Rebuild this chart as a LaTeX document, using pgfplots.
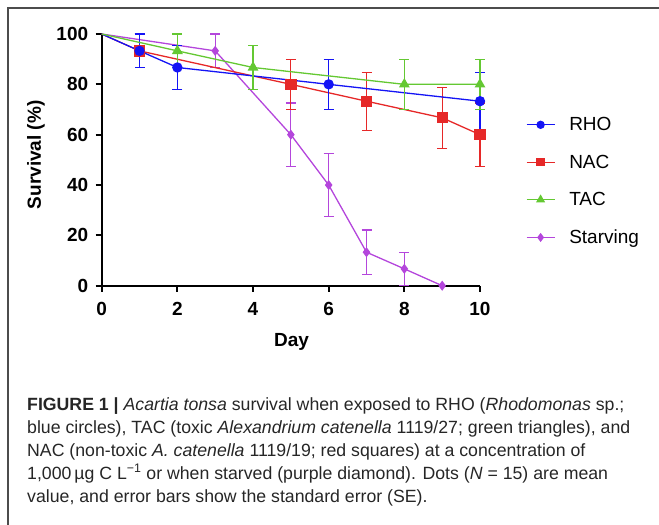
\documentclass[border=0pt]{standalone}
\usepackage{fontspec}
\setmainfont{Liberation Sans}
\usepackage{pgfplots}
\pgfplotsset{compat=1.18}
\usepackage{pgfplotstable}

\definecolor{rhoc}{RGB}{20,20,245}
\definecolor{nacc}{RGB}{230,40,40}
\definecolor{tacc}{RGB}{100,200,50}
\definecolor{stvc}{RGB}{180,70,220}

% mean survival (%) per day
\pgfplotstableread{
x y
0 100
1 93.3
2 86.7
6 80
10 73.3
}\rholine
\pgfplotstableread{
x y e
1 93.3 6.7
2 86.7 8.7
6 80 10
10 73.3 11.5
}\rhoerr
\pgfplotstableread{
x y
0 100
1 93.3
5 80
7 73.3
9 66.7
10 60
}\nacline
\pgfplotstableread{
x y e
1 93.3 6.7
5 80 10
7 73.3 11.5
9 66.7 12.2
10 60 12.6
}\nacerr
\pgfplotstableread{
x y
0 100
2 93.3
4 86.7
8 80
10 80
}\tacline
\pgfplotstableread{
x y e
2 93.3 6.7
4 86.7 8.7
8 80 10
10 80 10
}\tacerr
\pgfplotstableread{
x y
0 100
3 93.3
5 60
6 40
7 13.3
8 6.7
9 0
}\stvline
\pgfplotstableread{
x y e
3 93.3 6.7
5 60 12.6
6 40 12.6
7 13.3 8.8
8 6.7 6.5
}\stverr

\pgfplotsset{
  errs/.style={forget plot, draw=none, no markers,
    error bars/.cd, y dir=both, y explicit,
    error bar style={draw=#1, line width=1.2pt},
    error mark options={rotate=90, draw=#1, mark size=5pt, line width=1.2pt}},
  ser/.style={forget plot, color=#1, line width=1.3pt},
}

\begin{document}
\begin{tikzpicture}[x=1pt,y=1pt]
\path[use as bounding box] (0,0) rectangle (659,-525);
\draw[line width=1.5pt, black!70] (8,-525) -- (8,-8) -- (659,-8);

\begin{axis}[
  at={(101.7pt,-285.7pt)}, anchor=south west,
  scale only axis, width=378.3pt, height=251.7pt,
  xmin=0, xmax=10, ymin=0, ymax=100,
  clip=false,
  axis lines=left,
  axis line style={-, line width=2pt, black},
  xtick={0,2,...,10}, ytick={0,20,...,100},
  tick align=outside, major tick length=6pt,
  tick style={line width=2pt, black},
  /pgf/number format/assume math mode=true,
  ticklabel style={font=\bfseries\fontsize{19}{19}\selectfont},
  xticklabel style={yshift=-7pt},
  yticklabel style={xshift=-4pt},
  xlabel={Day}, ylabel={Survival (\%)},
  label style={font=\bfseries\fontsize{19}{19}\selectfont},
  xlabel style={at={(axis description cs:0.502,-0.2225)}, anchor=center},
  ylabel style={at={(axis description cs:-0.174,0.52)}, anchor=center},
  legend style={at={(axis description cs:1.113,0.415)}, anchor=west,
    draw=none, fill=none, font=\fontsize{19}{19}\selectfont, row sep=18.7pt,
    /tikz/every odd column/.append style={column sep=12pt}},
  legend cell align=left,
  legend image code/.code={\draw[mark repeat=2, mark phase=2, #1]
    plot coordinates {(0pt,0pt) (14pt,0pt) (28pt,0pt)};},
]
\addplot[errs=stvc] table[x=x, y=y, y error=e] {\stverr};
\addplot[ser=stvc, mark=diamond*, mark size=4pt, mark indices={2,...,7}] table {\stvline};
\addplot[errs=nacc] table[x=x, y=y, y error=e] {\nacerr};
\addplot[ser=nacc, mark=square*, mark size=5pt, mark indices={2,...,6}] table {\nacline};
\addplot[errs=rhoc] table[x=x, y=y, y error=e] {\rhoerr};
\addplot[ser=rhoc, mark=*, mark size=4.5pt, mark indices={2,...,5}] table {\rholine};
\addplot[errs=tacc] table[x=x, y=y, y error=e] {\tacerr};
\addplot[ser=tacc, mark=triangle*, mark size=5pt, mark indices={2,...,5}] table {\tacline};

\addlegendimage{rhoc, line width=1.3pt, mark=*, mark size=3.5pt}
\addlegendentry{RHO}
\addlegendimage{nacc, line width=1.3pt, mark=square*, mark size=3.5pt}
\addlegendentry{NAC}
\addlegendimage{tacc, line width=1.3pt, mark=triangle*, mark size=4pt}
\addlegendentry{TAC}
\addlegendimage{stvc, line width=1.3pt, mark=diamond*, mark size=3.5pt}
\addlegendentry{Starving}
\end{axis}

\node[anchor=north west, inner sep=0pt, align=left,
  font=\fontsize{17.7}{23}\selectfont, text=black!85] at (27,-397) {%
\textbf{FIGURE 1 |} \textit{Acartia tonsa} survival when exposed to RHO (\textit{Rhodomonas} sp.;\\
blue circles), TAC (toxic \textit{Alexandrium catenella} 1119/27; green triangles), and\\
NAC (non-toxic \textit{A. catenella} 1119/19; red squares) at a concentration of\\
1,000\,µg C L\textsuperscript{−1} or when starved (purple diamond). Dots (\textit{N} = 15) are mean\\
value, and error bars show the standard error (SE).};
\end{tikzpicture}
\end{document}
